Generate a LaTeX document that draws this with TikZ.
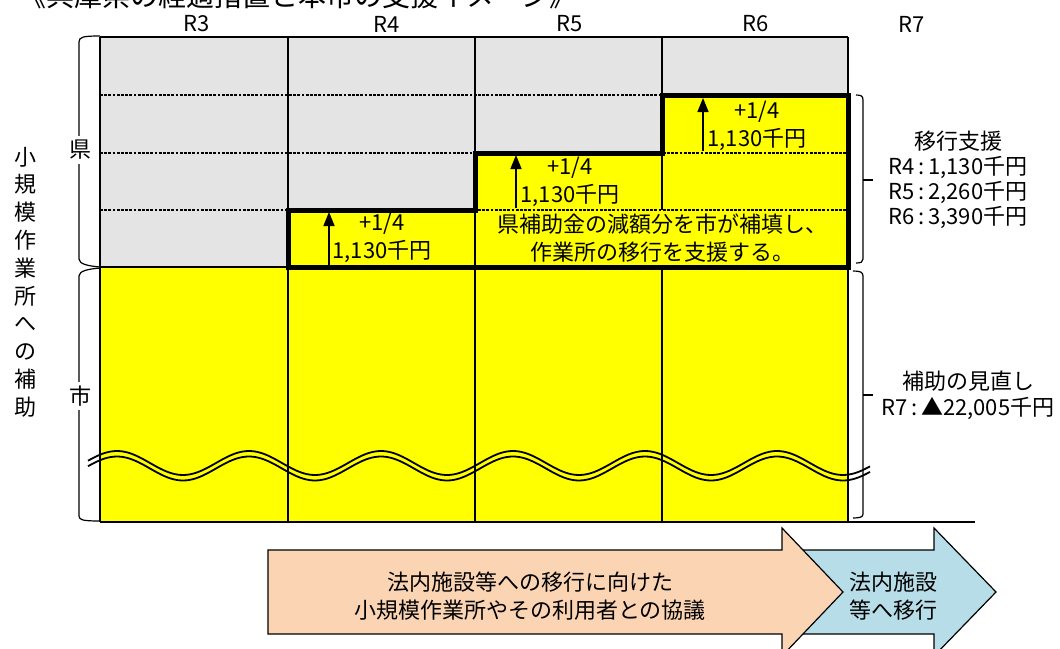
\documentclass[tikz,border=0pt]{standalone}
\usepackage{fontspec}
\setmainfont{Noto Sans CJK JP}
\usetikzlibrary{arrows.meta}
\definecolor{kenfill}{HTML}{E4E4E4}
\definecolor{shifill}{HTML}{FFFF00}
\definecolor{kyogifill}{HTML}{FBD4B4}
\definecolor{ikofill}{HTML}{B7DEE8}

\begin{document}
\begin{tikzpicture}[x=0.5pt, y=-0.5pt,
  lbl/.style={font=\fontsize{11}{14}\selectfont, align=center, inner sep=1pt},
  yr/.style={font=\fontsize{11}{12}\selectfont, inner sep=1pt},
  side/.style={font=\fontsize{11}{13.9}\selectfont, align=center, inner sep=1pt},
  grid/.style={line width=1pt},
  sep/.style={line width=1.4pt, dash pattern=on 1.4pt off 0.7pt},
  stepline/.style={line width=2.5pt, line join=miter},
  brk/.style={line width=0.6pt},
  uparr/.style={-{Triangle[length=7pt,width=5.5pt]}, line width=0.8pt},
  wave/.style={line width=0.9pt, domain=88:870, samples=140, smooth},
  band/.style={draw=black, line width=0.6pt},
]

\useasboundingbox (0,0) rectangle (1060,648);

% title, cut off at the top
\node[anchor=base west, font=\fontsize{14}{16}\selectfont, inner sep=0pt] (title) at (18,6) {《兵庫県の経過措置と本市の支援イメージ》};

% years
\foreach \n/\x in {3/197,4/387,5/570,6/756,7/912}
  \node[yr] (r\n) at (\x,24) {R\n};

% fills
\fill[kenfill] (100,37) rectangle (848,267);
\fill[shifill] (100,267) rectangle (848,522);
\fill[shifill] (288,267) -- (288,210) -- (475,210) -- (475,153) -- (662,153) -- (662,95) -- (848,95) -- (848,267) -- cycle;

% rows
\foreach \y in {95,153,210}
  \draw[sep] (100,\y) -- (848,\y);

% wave
\draw[wave] plot (\x, {463 - 12*cos(2.7273*(\x-117))});
\draw[wave] plot (\x, {468.5 - 12*cos(2.7273*(\x-117))});

% grid
\draw[grid] (100,37) -- (848,37);
\draw[grid] (100,267) -- (288,267);
\draw[grid] (100,37) -- (100,522);
\draw[grid] (288,37) -- (288,522);
\draw[grid] (475,37) -- (475,522);
\draw[grid] (662,37) -- (662,210) (662,267) -- (662,522);
\draw[grid] (848,37) -- (848,522);
\draw[line width=1.3pt] (100,522) -- (975,522);

% step
\draw[stepline] (288,267) -- (288,210) -- (475,210) -- (475,153) -- (662,153) -- (662,95) -- (848,95) -- (848,267) -- cycle;

\foreach \n/\x/\ya/\yb/\tx/\ty in {4/329/265/212/382/238, 5/516/208/155/570/182, 6/703/151/98/757/126} {
  \coordinate (a\n) at (\x,\ya);
  \coordinate (b\n) at (\x,\yb);
  \draw[uparr] (a\n) -- (b\n);
  \node[lbl] (s\n) at (\tx,\ty) {+1/4\\1,130千円};
}
\node[lbl] (hoten) at (662,238) {県補助金の減額分を市が補填し、\\作業所の移行を支援する。};

% left brackets
\draw[brk] (100,36) .. controls (83,36) and (79,37) .. (79,42) -- (79,259) .. controls (79,264) and (88,266) .. (100,267);
\draw[brk] (100,268) .. controls (88,269) and (79,271) .. (79,276) -- (79,516) .. controls (79,520) and (83,521) .. (100,521);
\node[lbl, fill=white, inner sep=2pt] (ken) at (80,150) {県};
\node[lbl, fill=white, inner sep=2pt] (shi) at (80,396) {市};
\node[side] (hojo) at (25,282) {小\\規\\模\\作\\業\\所\\へ\\の\\補\\助};

% right brackets
\draw[brk] (856,95) .. controls (861,95) and (863,96) .. (863,100) -- (863,259) .. controls (863,262) and (861,263) .. (856,263);
\draw[brk] (863,180) -- (873,180);
\draw[brk] (853,271) .. controls (860,271) and (863,272) .. (863,276) -- (863,514) .. controls (863,517) and (860,518) .. (853,518);
\draw[brk] (863,395) -- (873,395);
\node[lbl, font=\fontsize{11}{12.5}\selectfont] (shien) at (958,180) {移行支援\\R4\,:\,1,130千円\\R5\,:\,2,260千円\\R6\,:\,3,390千円};
\node[lbl, font=\fontsize{11}{13}\selectfont] (minaoshi) at (968,395) {補助の見直し\\R7\,:\,▲22,005千円};

% bottom arrows
\filldraw[band, fill=ikofill] (790,550) -- (934,550) -- (934,528) -- (996,592) -- (934,656) -- (934,634) -- (790,634) -- cycle;
\filldraw[band, fill=kyogifill] (268,550) -- (782,550) -- (782,528) -- (843,592) -- (782,656) -- (782,634) -- (268,634) -- cycle;
\node[lbl] (kyogi) at (530,596) {法内施設等への移行に向けた\\小規模作業所やその利用者との協議};
\node[lbl] (iko) at (893,596) {法内施設\\等へ移行};

\end{tikzpicture}
\end{document}
